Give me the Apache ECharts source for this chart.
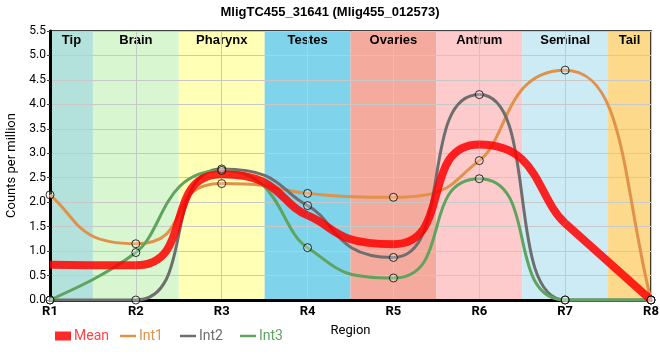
<!DOCTYPE html>
<html><head><meta charset="utf-8">
<script src="https://cdn.jsdelivr.net/npm/echarts@6/dist/echarts.min.js"></script>
<style>html,body{margin:0;padding:0;background:#fff}#c{width:660px;height:360px}</style>
</head><body><div id="c"></div>
<script>
var categories = ['R1','R2','R3','R4','R5','R6','R7','R8'];
var meanValues = [0.72, 0.71, 2.57, 1.73, 1.14, 3.18, 1.57, 0.0];
var int1Values = [2.15, 1.15, 2.38, 2.18, 2.10, 2.85, 4.70, 0.0];
var int2Values = [0.0, 0.0, 2.68, 1.93, 0.87, 4.20, 0.0, 0.0];
var int3Values = [0.0, 0.97, 2.65, 1.07, 0.45, 2.48, 0.0, 0.0];
var bandNames = ['Tip','Brain','Pharynx','Testes','Ovaries','Antrum','Seminal','Tail'];
var bandColors = ['#b3e2dc','#d8f6cf','#ffffb5','#7fd4ec','#f4ab9d','#fecbcc','#cdebf5','#fdd98b'];
var yMin = 0, yMax = 5.5, yStep = 0.5;
var FLAT_HANDLE = 0.7, SLOPE_HANDLE = 1/3; // bezier handle lengths (fraction of category step)

function pairs(vals){ return vals.map(function(v,i){ return [i, v]; }); }
function sign(v){ return v < 0 ? -1 : (v > 0 ? 1 : 0); }
function tangents(y){
  var n = y.length, t = new Array(n);
  for (var i = 1; i < n-1; i++){
    var s0 = y[i]-y[i-1], s1 = y[i+1]-y[i], p = (s0+s1)/2;
    t[i] = (sign(s0)+sign(s1)) * Math.min(Math.abs(s0), Math.abs(s1), 0.5*Math.abs(p)) || 0;
  }
  t[0] = (3*(y[1]-y[0]) - t[1])/2;
  t[n-1] = (3*(y[n-1]-y[n-2]) - t[n-2])/2;
  return t;
}
function clamp(v, a, b){ var lo = Math.min(a,b), hi = Math.max(a,b); return Math.max(lo, Math.min(hi, v)); }
function curveSeries(name, vals, color, width, z){
  var t = tangents(vals);
  var h = t.map(function(s){ return Math.abs(s) < 0.05 ? FLAT_HANDLE : SLOPE_HANDLE; });
  return {
    name:name, type:'custom', z:z, data:pairs(vals), encode:{x:0, y:1}, clip:false,
    itemStyle:{color:color},
    renderItem:function(params, api){
      if (params.dataIndex !== 0) return null;
      var children = [];
      for (var i = 0; i < vals.length-1; i++){
        var a = vals[i], b = vals[i+1];
        var p0 = api.coord([i, a]), p1 = api.coord([i+1, b]);
        var c0 = api.coord([i+h[i], clamp(a + t[i]*h[i], a, b)]);
        var c1 = api.coord([i+1-h[i+1], clamp(b - t[i+1]*h[i+1], a, b)]);
        children.push({type:'bezierCurve',
          shape:{x1:p0[0], y1:p0[1], x2:p1[0], y2:p1[1], cpx1:c0[0], cpy1:c0[1], cpx2:c1[0], cpy2:c1[1]},
          style:{stroke:color, lineWidth:width, fill:null, lineCap:'butt'}});
      }
      return {type:'group', children:children};
    }
  };
}
function dotSeries(name, vals){
  return {name:name, type:'scatter', data:pairs(vals), symbol:'circle', symbolSize:8, z:7,
    itemStyle:{color:'rgba(255,255,255,0.3)', borderColor:'#000', borderWidth:1}};
}
var bandData = bandNames.map(function(n,i){
  return [{name:n, xAxis: Math.max(0, i-0.5), itemStyle:{color:bandColors[i]}},
          {xAxis: Math.min(categories.length-1, i+0.5)}];
});
var font = 'Liberation Sans';
var colMean = 'rgba(255,0,0,0.85)', colI1 = '#e0914a', colI2 = '#6e6e6e', colI3 = '#5fa35f';
var lineIcon = 'path://M0,0h16v2.5h-16z';
function legendAt(left, name, icon, color, textColor){
  return {left:left, top:324, itemWidth:16, itemHeight:9, itemGap:0, selectedMode:false,
    textStyle:{fontSize:14, fontFamily:'Roboto', color:textColor, padding:[0,0,0,-2]},
    data:[{name:name, icon:icon, itemStyle:{color:color, borderWidth:0}}]};
}

var chart = echarts.init(document.getElementById('c'), null, {renderer:'canvas'});
chart.setOption({
  animation:false,
  textStyle:{fontFamily:font},
  title:{text:'MligTC455_31641 (Mlig455_012573)', left:'center', top:1,
    textStyle:{fontSize:13, fontWeight:'bold', color:'#000', fontFamily:font}},
  grid:{left:50, right:9, top:31, bottom:60, show:true, borderColor:'#000', borderWidth:1.5, z:1.5, outerBoundsMode:'none', containLabel:false},
  legend:[
    legendAt(50, 'Mean', 'rect', '#ff2a2a', '#ff4545'),
    legendAt(115, 'Int1', lineIcon, colI1, colI1),
    legendAt(175, 'Int2', lineIcon, colI2, colI2),
    legendAt(235, 'Int3', lineIcon, colI3, colI3)
  ],
  xAxis:{type:'value', min:0, max:categories.length-1, interval:1, z:1.5,
    name:'Region', nameLocation:'middle', nameGap:24, nameTextStyle:{fontSize:13, color:'#000', fontFamily:'Roboto'},
    axisLine:{lineStyle:{color:'#000', width:3}}, axisTick:{show:false},
    axisLabel:{formatter:function(v){return categories[v]||'';}, color:'#000', fontSize:13, fontWeight:'bold', fontFamily:'Roboto', margin:5},
    splitLine:{show:true, lineStyle:{color:'#c8c8c8', width:1}}},
  yAxis:{type:'value', min:yMin, max:yMax, interval:yStep, z:1.5,
    name:'Counts per million', nameLocation:'middle', nameGap:25, nameTextStyle:{fontSize:13, color:'#000', fontFamily:'Roboto'},
    axisLine:{show:true, lineStyle:{color:'#000', width:3}},
    axisTick:{show:true, length:3, lineStyle:{color:'#444'}},
    axisLabel:{formatter:function(v){return v.toFixed(1);}, color:'#000', fontSize:12, fontFamily:'Roboto', margin:4},
    splitLine:{show:true, lineStyle:{color:'#c8c8c8', width:1}}},
  series:[
    {name:'bands', type:'line', data:[], z:0,
     markArea:{silent:true, z:1, data:bandData,
       label:{show:true, position:'insideTop', distance:3, color:'#000', fontSize:13, fontWeight:'bold', fontFamily:font}}},
    curveSeries('Int1', int1Values, colI1, 3, 3),
    curveSeries('Int2', int2Values, colI2, 3, 4),
    curveSeries('Int3', int3Values, colI3, 3, 5),
    curveSeries('Mean', meanValues, colMean, 8, 6),
    dotSeries('Int1', int1Values),
    dotSeries('Int2', int2Values),
    dotSeries('Int3', int3Values)
  ]
});
</script></body></html>
